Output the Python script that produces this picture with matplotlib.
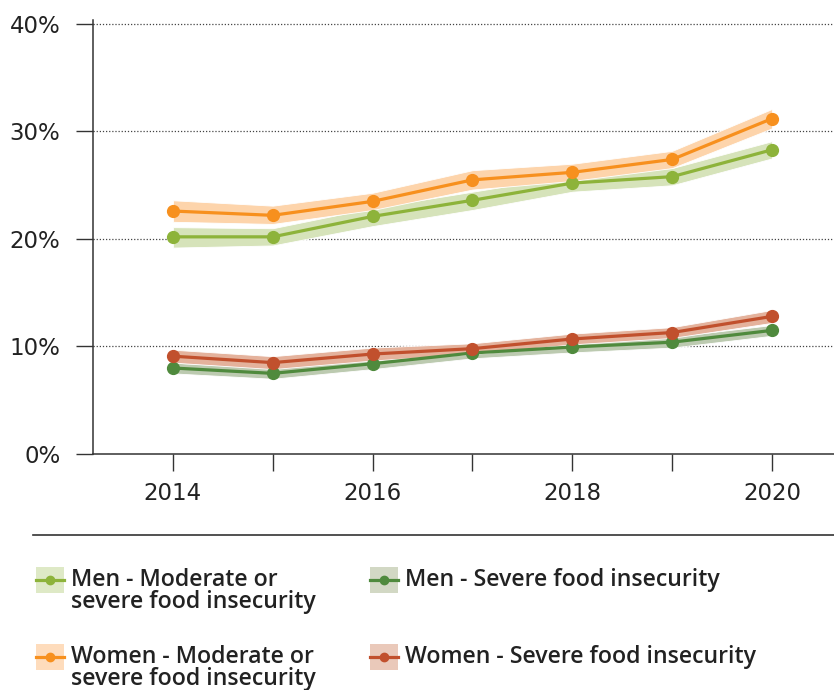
import matplotlib
matplotlib.use("Agg")
import matplotlib.pyplot as plt
from matplotlib.lines import Line2D
from matplotlib.patches import Rectangle

# ---- Data ----
years = [2014, 2015, 2016, 2017, 2018, 2019, 2020]
year_labels = ["2014", "", "2016", "", "2018", "", "2020"]

women_mod = [22.6, 22.2, 23.5, 25.5, 26.2, 27.4, 31.2]
women_mod_lo = [21.6, 21.4, 22.7, 24.6, 25.4, 26.6, 30.3]
women_mod_hi = [23.6, 23.1, 24.3, 26.4, 27.0, 28.2, 32.1]

men_mod = [20.2, 20.2, 22.1, 23.6, 25.2, 25.8, 28.3]
men_mod_lo = [19.2, 19.4, 21.2, 22.7, 24.4, 25.0, 27.5]
men_mod_hi = [21.1, 21.0, 22.9, 24.4, 25.9, 26.6, 29.1]

women_sev = [9.1, 8.5, 9.3, 9.8, 10.7, 11.3, 12.8]
women_sev_lo = [8.5, 7.9, 8.7, 9.3, 10.2, 10.8, 12.2]
women_sev_hi = [9.7, 9.1, 9.9, 10.3, 11.2, 11.8, 13.4]

men_sev = [8.0, 7.5, 8.4, 9.4, 9.95, 10.4, 11.5]
men_sev_lo = [7.5, 7.0, 7.9, 8.9, 9.45, 9.9, 11.0]
men_sev_hi = [8.5, 8.0, 8.9, 9.9, 10.45, 10.9, 12.0]

yticks = [0, 10, 20, 30, 40]
ytick_labels = ["0%", "10%", "20%", "30%", "40%"]

tick_font = ["DejaVu Sans"]
legend_font = ["Open Sans", "DejaVu Sans"]

W, H = 834, 690
fig = plt.figure(figsize=(W / 100, H / 100), dpi=100)
ax = fig.add_axes([93 / W, 1 - 454 / H, (W - 93) / W, 434 / H])

series = [
    (men_mod, men_mod_lo, men_mod_hi, "#8db33a", "#d6e3ba", "Men - Moderate or\nsevere food insecurity", "#dee9c6"),
    (women_mod, women_mod_lo, women_mod_hi, "#f7901e", "#fdd4ab", "Women - Moderate or\nsevere food insecurity", "#fedcbc"),
    (men_sev, men_sev_lo, men_sev_hi, "#4f8a3d", "#bccab0", "Men - Severe food insecurity", "#d2d8c4"),
    (women_sev, women_sev_lo, women_sev_hi, "#c1502d", "#e4b29c", "Women - Severe food insecurity", "#eac9ba"),
]

for vals, lo, hi, c, band, label, lc in series:
    ax.fill_between(years, lo, hi, color=band, edgecolor="white", linewidth=0.6, zorder=2)
for vals, lo, hi, c, band, label, lc in series:
    ax.plot(years, vals, color=c, lw=2.3, marker="o", ms=8.5, zorder=3)

ax.set_xlim(2013.2, 2020.62)
ax.set_ylim(0, 40.37)
ax.set_yticks(yticks)
ax.set_yticklabels(ytick_labels)
ax.set_xticks(years)
ax.set_xticklabels(year_labels)
for t in ax.get_xticklabels() + ax.get_yticklabels():
    t.set_family(tick_font)
    t.set_fontsize(16.5)
    t.set_color("#222222")
ax.tick_params(axis="y", length=12.5, width=1, color="#333333", pad=11)
ax.tick_params(axis="x", length=12.5, width=1, color="#333333", pad=8)
for y in yticks[1:]:
    ax.axhline(y, color="#444444", lw=0.9, ls=(0, (1, 1.5)), zorder=1)
for s in ["top", "right"]:
    ax.spines[s].set_visible(False)
for s in ["left", "bottom"]:
    ax.spines[s].set_color("#333333")
    ax.spines[s].set_linewidth(1.1)

# separator line
fig.add_artist(Line2D([33 / W, 1], [1 - 535 / H, 1 - 535 / H], color="#333333", lw=1.2))

# ---- Legend (manual) ----
legend_pos = [(36, 580), (36, 657), (370, 580), (370, 657)]
for (vals, lo, hi, c, band, label, lc), (px, py) in zip(series, legend_pos):
    fig.add_artist(Rectangle((px / W, 1 - (py + 13) / H), 28 / W, 26 / H,
                             transform=fig.transFigure, color=lc, lw=0))
    fig.add_artist(Line2D([px / W, (px + 28) / W], [1 - py / H, 1 - py / H],
                          color=c, lw=2.3, transform=fig.transFigure))
    fig.add_artist(Line2D([(px + 14) / W], [1 - py / H], color=c, marker="o", ms=6,
                          lw=0, transform=fig.transFigure))
    fig.text((px + 35) / W, 1 - (py - 12) / H, label, ha="left", va="top",
             fontsize=16.7, family=legend_font, fontweight="semibold", color="#222222",
             linespacing=0.9)

fig.savefig("out.png", dpi=100)
